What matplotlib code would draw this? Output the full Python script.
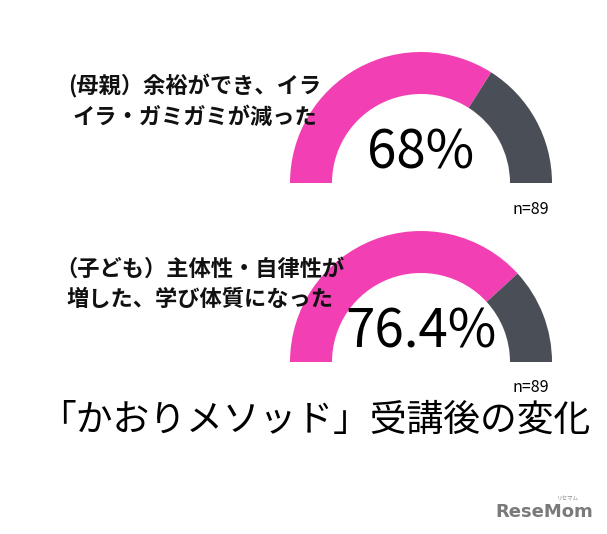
import matplotlib
matplotlib.use("Agg")
import matplotlib.pyplot as plt
from matplotlib.patches import Wedge

plt.rcParams['font.family'] = ['Noto Sans CJK JP', 'DejaVu Sans']

# data
labels = ["(母親）余裕ができ、イラ\nイラ・ガミガミが減った",
          "（子ども）主体性・自律性が\n増した、学び体質になった"]
values = [68, 76.4]
value_texts = ["68%", "76.4%"]
n_counts = [89, 89]
title = "「かおりメソッド」受講後の変化"

PINK = "#F23FB3"
GRAY = "#4A4F57"

W, H = 607, 534
fig = plt.figure(figsize=(W / 100, H / 100), dpi=100)
ax = fig.add_axes([0, 0, 1, 1])
ax.set_xlim(0, W)
ax.set_ylim(0, H)
ax.axis("off")

cx = 421
centers_y = [H - 183, H - 362]
r_out, width = 131, 42
label_y = [(85 + 118) / 2, (268 + 300) / 2]
label_x = [195, 200]
pct_y = [153, 332]
n_y = [210, 388]

for i, v in enumerate(values):
    cy = centers_y[i]
    split = 180 - v / 100 * 180
    ax.add_patch(Wedge((cx, cy), r_out, split, 180, width=width, color=PINK, lw=0))
    ax.add_patch(Wedge((cx, cy), r_out, 0, split, width=width, color=GRAY, lw=0))
    ax.text(cx, H - pct_y[i], value_texts[i], ha="center", va="center",
            fontsize=38, color="black")
    ax.text(531, H - n_y[i], f"n={n_counts[i]}", ha="center", va="center",
            fontsize=11.5, color="black")
    ax.text(label_x[i], H - label_y[i], labels[i], ha="center", va="center",
            fontsize=16, fontweight="bold", color="#111111", linespacing=1.4)

ax.text(315, H - 420, title, ha="center", va="center", fontsize=26.5, color="black")

ax.text(544, H - 512, "ReseMom", ha="center", va="center", fontsize=13,
        fontweight="bold", color="#7a7a7a", family=["DejaVu Sans"])
ax.text(568, H - 499, "リセマム", ha="center", va="center", fontsize=4, color="#8a8a8a")

fig.savefig("out.png", dpi=100)
